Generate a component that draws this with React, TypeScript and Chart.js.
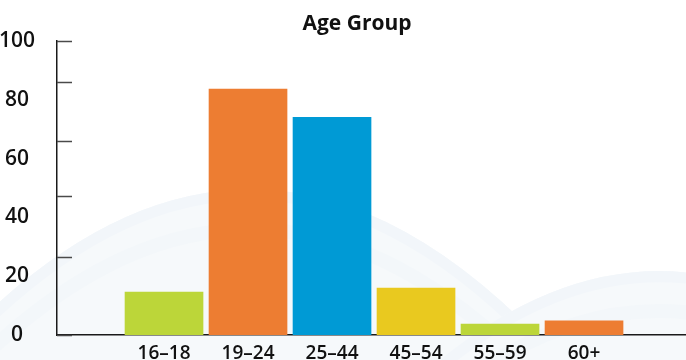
import React, { useEffect, useRef } from 'react';
import { Chart, registerables } from 'chart.js';

Chart.register(...registerables);

const title = 'Age Group';
const categories = ['16–18', '19–24', '25–44', '45–54', '55–59', '60+'];
const values = [14.6, 83.7, 74.1, 16.0, 3.7, 4.8];
const barColors = ['#bcd639', '#ed7d32', '#009ad5', '#e9c91f', '#bcd639', '#ed7d32'];
const yTickLabels = [0, 20, 40, 60, 80, 100];
const yTickMarks = [0, 26.5, 47.3, 66, 86, 100];

const FONT = "'Open Sans', 'DejaVu Sans', sans-serif";

const backgroundPlugin = {
  id: 'swooshBackground',
  beforeDraw(chart: any) {
    const ctx = chart.ctx;
    const w = chart.width;
    const h = chart.height;
    ctx.save();
    ctx.fillStyle = '#ffffff';
    ctx.fillRect(0, 0, w, h);
    const domes = [
      { x0: -20, y0: 320, cx: 270, cy: 40, x1: 560, y1: 360 },
      { x0: 440, y0: 360, cx: 600, cy: 230, x1: 760, y1: 290 },
    ];
    for (const d of domes) {
      ctx.save();
      ctx.beginPath();
      ctx.moveTo(d.x0, d.y0);
      ctx.quadraticCurveTo(d.cx, d.cy, d.x1, d.y1);
      ctx.lineTo(d.x1, h + 20);
      ctx.lineTo(d.x0, h + 20);
      ctx.closePath();
      ctx.fillStyle = '#f6f9fb';
      ctx.fill();
      ctx.clip();
      ctx.beginPath();
      ctx.moveTo(d.x0, d.y0);
      ctx.quadraticCurveTo(d.cx, d.cy, d.x1, d.y1);
      ctx.strokeStyle = '#f2f6fa';
      ctx.lineWidth = 22;
      ctx.stroke();
      ctx.beginPath();
      ctx.moveTo(d.x0, d.y0 + 40);
      ctx.quadraticCurveTo(d.cx, d.cy + 40, d.x1, d.y1 + 40);
      ctx.strokeStyle = '#f3f7fa';
      ctx.lineWidth = 14;
      ctx.stroke();
      ctx.restore();
    }
    ctx.restore();
  },
};

const tickMarkPlugin = {
  id: 'innerTickMarks',
  afterDraw(chart: any) {
    const ctx = chart.ctx;
    const yScale = chart.scales.y;
    const left = chart.chartArea.left;
    ctx.save();
    ctx.strokeStyle = '#4a4a4a';
    ctx.lineWidth = 1.5;
    for (const v of yTickMarks) {
      const y = Math.round(yScale.getPixelForValue(v)) + 0.5;
      ctx.beginPath();
      ctx.moveTo(left, y);
      ctx.lineTo(left + 15, y);
      ctx.stroke();
    }
    ctx.restore();
  },
};

export default function App() {
  const canvasRef = useRef<HTMLCanvasElement | null>(null);

  useEffect(() => {
    if (!canvasRef.current) return;
    const chart = new Chart(canvasRef.current, {
      type: 'bar',
      data: {
        datasets: [
          {
            data: categories.map((_, i) => ({ x: i, y: values[i] })) as any,
            backgroundColor: barColors,
            borderWidth: 0,
            barThickness: 78,
          },
        ],
      },
      options: {
        animation: false,
        responsive: true,
        maintainAspectRatio: false,
        layout: { padding: { left: 28, right: 0, top: 0, bottom: 0 } },
        plugins: {
          legend: { display: false },
          tooltip: { enabled: false },
          title: {
            display: true,
            text: title,
            color: '#111111',
            font: { family: FONT, size: 21, weight: 'bold' },
            padding: { top: 11, bottom: 5 },
          },
        },
        scales: {
          x: {
            type: 'linear',
            min: -1.274,
            max: 6.214,
            bounds: 'data',
            offset: false,
            grid: { display: false, offset: false },
            border: { display: true, color: '#1a1a1a', width: 1.5 },
            ticks: {
              autoSkip: false,
              maxRotation: 0,
              padding: -1,
              color: '#111111',
              font: { family: FONT, size: 19, weight: '600' },
              callback: (v: any) => categories[v as number] ?? '',
            },
            afterBuildTicks: (s: any) => {
              s.ticks = categories.map((_, i) => ({ value: i }));
            },
            afterFit: (s: any) => {
              s.height = 25;
            },
          },
          y: {
            min: 0,
            max: 100,
            grid: { display: false },
            border: { display: true, color: '#1a1a1a', width: 1.5 },
            ticks: {
              mirror: true,
              padding: -58,
              crossAlign: 'center',
              color: '#111111',
              font: { family: FONT, size: 21, weight: '600' },
            },
            afterBuildTicks: (s: any) => {
              s.ticks = yTickLabels.map((v) => ({ value: v }));
            },
            afterFit: (s: any) => {
              s.width = 29;
            },
          },
        },
      } as any,
      plugins: [backgroundPlugin, tickMarkPlugin],
    });
    return () => chart.destroy();
  }, []);

  return (
    <div style={{ position: 'fixed', left: 0, top: 0, width: 686, height: 360, background: '#fff' }}>
      <canvas ref={canvasRef} />
    </div>
  );
}
